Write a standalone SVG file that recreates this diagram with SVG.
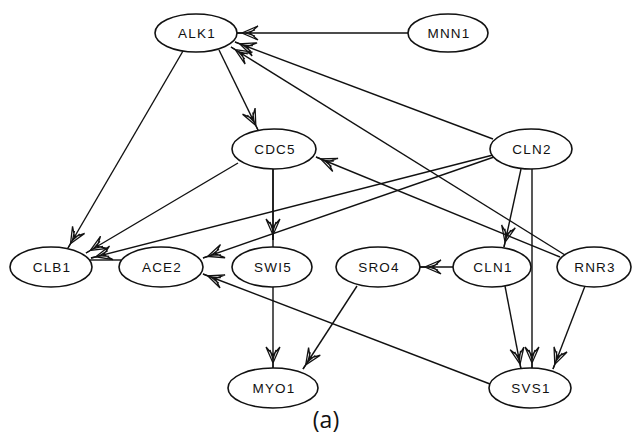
<svg xmlns="http://www.w3.org/2000/svg" width="634" height="443" viewBox="0 0 634 443">
<style>
.node ellipse{fill:#fff;stroke:#111;stroke-width:1.6}
.node text{font-family:"Liberation Sans",Arial,sans-serif;font-size:13.5px;letter-spacing:1.2px;fill:#111;text-anchor:middle;dominant-baseline:central}
#edges line{stroke:#111;stroke-width:1.4;fill:none}
.arr{marker-end:url(#ah)}
</style>
<defs>
<marker id="ah" viewBox="-24 -9 26 18" refX="0" refY="0" markerWidth="26" markerHeight="18" markerUnits="userSpaceOnUse" orient="auto">
<path d="M0,0 H-5 M-21,-7 L-5,0 L-21,7 M-21,-7 L-13,0 L-21,7 M-18,-3 L-9,0 L-18,3" fill="none" stroke="#111" stroke-width="1.3"/>
</marker>
</defs>
<rect width="634" height="443" fill="#fff"/>
<g id="edges">
<line class="arr" x1="408" y1="33" x2="237" y2="33"/>
<line class="arr" x1="219" y1="50" x2="258" y2="130"/>
<line class="arr" x1="183" y1="51" x2="68" y2="248"/>
<line class="arr" x1="493" y1="139" x2="235" y2="42"/>
<line class="arr" x1="565" y1="255" x2="231" y2="47"/>
<line class="arr" x1="560" y1="257" x2="316" y2="157"/>
<line class="arr" x1="493" y1="155" x2="91" y2="258"/>
<line class="arr" x1="494" y1="157" x2="203" y2="258"/>
<line class="arr" x1="238" y1="163" x2="86" y2="253"/>
<line class="arr" x1="273" y1="169" x2="273" y2="240"/>
<line class="arr" x1="273" y1="169" x2="273" y2="368"/>
<line class="arr" x1="357" y1="286" x2="303" y2="369"/>
<line class="arr" x1="453" y1="267" x2="420" y2="267"/>
<line class="arr" x1="521" y1="169" x2="504" y2="247"/>
<line class="arr" x1="532" y1="169" x2="532" y2="368"/>
<line class="arr" x1="505" y1="286" x2="521" y2="369"/>
<line class="arr" x1="585" y1="286" x2="553" y2="369"/>
<line class="arr" x1="490" y1="384" x2="203" y2="274"/>
<line x1="89" y1="260" x2="121" y2="260"/>
</g>
<g id="ALK1" class="node"><ellipse cx="196" cy="33" rx="41" ry="19"/><text x="197" y="33">ALK1</text></g>
<g id="MNN1" class="node"><ellipse cx="448" cy="33" rx="40" ry="19"/><text x="449" y="33">MNN1</text></g>
<g id="CDC5" class="node"><ellipse cx="274" cy="149" rx="42" ry="20"/><text x="275" y="149">CDC5</text></g>
<g id="CLN2" class="node"><ellipse cx="531" cy="149" rx="41" ry="20"/><text x="532" y="149">CLN2</text></g>
<g id="CLB1" class="node"><ellipse cx="51" cy="267" rx="41" ry="20"/><text x="52" y="267">CLB1</text></g>
<g id="ACE2" class="node"><ellipse cx="161" cy="267" rx="42" ry="20"/><text x="162" y="267">ACE2</text></g>
<g id="SWI5" class="node"><ellipse cx="272" cy="267" rx="40" ry="20"/><text x="273" y="267">SWI5</text></g>
<g id="SRO4" class="node"><ellipse cx="378" cy="267" rx="42" ry="20"/><text x="379" y="267">SRO4</text></g>
<g id="CLN1" class="node"><ellipse cx="492" cy="267" rx="39" ry="20"/><text x="493" y="267">CLN1</text></g>
<g id="RNR3" class="node"><ellipse cx="594" cy="267" rx="37" ry="20"/><text x="595" y="267">RNR3</text></g>
<g id="MYO1" class="node"><ellipse cx="273" cy="388" rx="45" ry="20"/><text x="274" y="388">MYO1</text></g>
<g id="SVS1" class="node"><ellipse cx="530" cy="388" rx="41" ry="20"/><text x="531" y="388">SVS1</text></g>
<text x="326" y="428" font-family="'Open Sans','Noto Sans',sans-serif" font-size="23" fill="#111" text-anchor="middle">(a)</text>
</svg>
